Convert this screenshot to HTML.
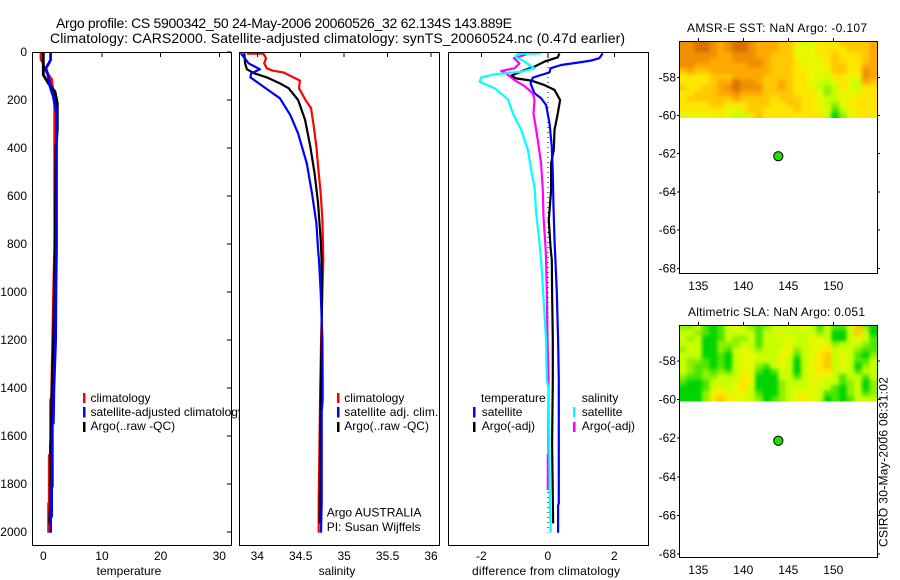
<!DOCTYPE html>
<html>
<head>
<meta charset="utf-8">
<title>Argo profile</title>
<style>
html,body{margin:0;padding:0;background:#fff;}
svg{display:block;font-family:"Liberation Sans",sans-serif;font-size:12px;fill:#000;}
</style>
</head>
<body>
<svg id="chart" xmlns="http://www.w3.org/2000/svg" width="900" height="580" viewBox="0 0 900 580">
<defs>
<clipPath id="legend-clip"><rect x="0" y="0" width="239" height="580"/></clipPath>
<clipPath id="sst-clip"><rect x="679" y="41" width="198" height="77"/></clipPath>
<clipPath id="sla-clip"><rect x="679" y="325" width="198" height="76.5"/></clipPath>
<filter id="smooth" x="-5%" y="-10%" width="110%" height="120%" color-interpolation-filters="sRGB">
<feGaussianBlur stdDeviation="1.8"/>
<feComponentTransfer><feFuncA type="linear" slope="2.4"/></feComponentTransfer>
</filter>
</defs>
<text x="56" y="28" font-size="14" textLength="456" lengthAdjust="spacing">Argo profile: CS 5900342_50 24-May-2006 20060526_32 62.134S 143.889E</text>
<text x="50" y="43" font-size="14" textLength="575" lengthAdjust="spacing">Climatology: CARS2000. Satellite-adjusted climatology: synTS_20060524.nc (0.47d earlier)</text>
<g id="panels"></g>
<g id="maps"></g>

<text x="129" y="575" text-anchor="middle">temperature</text>
<text x="337" y="575" text-anchor="middle">salinity</text>
<text x="546" y="575" text-anchor="middle" textLength="148" lengthAdjust="spacing">difference from climatology</text>

<g clip-path="url(#legend-clip)">
<rect x="83" y="393" width="2.5" height="10" fill="#f00"/>
<rect x="83" y="407" width="2.5" height="10.5" fill="#00f"/>
<rect x="83" y="422" width="2.5" height="10" fill="#000"/>
<text x="90.5" y="402">climatology</text>
<text x="90.5" y="416">satellite-adjusted climatology</text>
<text x="90.5" y="430">Argo(..raw -QC)</text>
</g>
<g>
<rect x="337" y="393" width="2.5" height="10" fill="#f00"/>
<rect x="337" y="407" width="2.5" height="10.5" fill="#00f"/>
<rect x="337" y="422" width="2.5" height="10" fill="#000"/>
<text x="344.3" y="402">climatology</text>
<text x="344.3" y="416" textLength="94" lengthAdjust="spacing">satellite adj. clim.</text>
<text x="344.3" y="430">Argo(..raw -QC)</text>
<text x="326.7" y="516.5">Argo AUSTRALIA</text>
<text x="326.7" y="531">PI: Susan Wijffels</text>
</g>
<g>
<text x="481" y="402">temperature</text>
<text x="581.7" y="402">salinity</text>
<rect x="473" y="407" width="2.5" height="10.5" fill="#00f"/>
<rect x="473" y="422" width="2.5" height="10" fill="#000"/>
<rect x="573" y="407" width="2.5" height="10.5" fill="#0ff"/>
<rect x="573" y="422" width="2.5" height="10" fill="#f0f"/>
<text x="481.7" y="416">satellite</text>
<text x="481.7" y="430">Argo(-adj)</text>
<text x="581.7" y="416">satellite</text>
<text x="581.7" y="430">Argo(-adj)</text>
</g>

<text x="687" y="32" textLength="180" lengthAdjust="spacing">AMSR-E SST: NaN Argo: -0.107</text>
<text x="688" y="316" textLength="177" lengthAdjust="spacing">Altimetric SLA: NaN Argo: 0.051</text>
<text transform="translate(887.5,547) rotate(-90)" textLength="170" lengthAdjust="spacing">CSIRO 30-May-2006 08:31:02</text>
</svg>

<script>
// ---- Axis tick labels ----
const depthTicks = [0, 200, 400, 600, 800, 1000, 1200, 1400, 1600, 1800, 2000];
const temperatureTicks = [0, 10, 20, 30];
const salinityTicks = [34, 34.5, 35, 35.5, 36];
const differenceTicks = [-2, 0, 2];
const longitudeTicks = [135, 140, 145, 150];
const latitudeTicks = [-58, -60, -62, -64, -66, -68];

// ---- Temperature panel ----
const tempClimDepth = [0, 32, 46, 60, 95, 115, 157, 185, 800, 1000, 1200, 1440, 1450, 1679, 1680, 1880, 1881, 2003];
const tempClimValue = [-0.4, -0.4, 0, 0, 0.85, 1.42, 1.6, 1.95, 1.95, 1.75, 1.6, 1.42, 1.25, 1.25, 1.02, 1.02, 0.91, 0.91];
const tempArgoDepth = [0, 95, 130, 165, 213, 324, 400, 800, 1000, 1200, 1400, 1600, 1640, 1870, 1964];
const tempArgoValue = [0, 0, 0.85, 2.0, 2.39, 2.39, 2.15, 2.05, 1.9, 1.75, 1.48, 1.36, 1.25, 1.25, 1.08];
const tempSatDepth = [0, 32, 46, 67, 101, 143, 185, 254, 800, 1000, 1200, 1400, 1547, 1548, 1811, 1812, 1936, 1937, 2003];
const tempSatValue = [1.25, 1.25, 0.97, 0.45, 0.85, 1.14, 1.7, 2.25, 2.25, 2.15, 2.1, 1.8, 1.7, 1.53, 1.53, 1.42, 1.42, 1.25, 1.25];

// ---- Salinity panel ----
const salClimDepth = [7, 7, 26, 47, 68, 78, 85, 99, 119, 151, 197, 235, 311, 394, 478, 589, 700, 867, 1000, 1200, 1367, 1680, 1880, 2003];
const salClimValue = [33.88, 34.07, 34.10, 34.08, 34.11, 34.18, 34.30, 34.38, 34.49, 34.48, 34.55, 34.62, 34.65, 34.68, 34.70, 34.73, 34.75, 34.76, 34.75, 34.735, 34.726, 34.714, 34.707, 34.707];
const salSatDepth = [5, 47, 72, 89, 106, 144, 193, 263, 339, 464, 589, 714, 825, 867, 1000, 1200, 1367, 1450, 1500, 1880, 2003];
const salSatValue = [33.81, 33.90, 34.03, 33.93, 33.92, 34.07, 34.26, 34.38, 34.47, 34.57, 34.63, 34.68, 34.70, 34.71, 34.73, 34.75, 34.752, 34.752, 34.741, 34.741, 34.733];
const salArgoDepth = [5, 47, 72, 89, 106, 131, 151, 200, 283, 394, 506, 631, 783, 867, 1000, 1200, 1400, 1600, 1880, 1964];
const salArgoValue = [33.85, 33.86, 33.88, 33.97, 34.11, 34.26, 34.36, 34.47, 34.55, 34.61, 34.66, 34.70, 34.73, 34.74, 34.745, 34.74, 34.73, 34.726, 34.72, 34.718];

// ---- Difference panel ----
const diffTempArgoDepth = [6, 22, 40, 61, 78, 99, 110, 119, 138, 158, 200, 256, 325, 408, 464, 575, 700, 811, 867, 1000, 1200, 1367, 1630, 1850, 1964];
const diffTempArgoValue = [0.35, 0.30, -0.10, -0.40, -0.75, -1.10, -0.95, -0.50, -0.10, 0.20, 0.37, 0.30, 0.20, 0.18, 0.10, 0.10, 0.03, 0.08, 0.12, 0.13, 0.15, 0.15, 0.13, 0.15, 0.16];
const diffTempSatDepth = [6, 26, 36, 44, 54, 68, 85, 96, 107, 131, 172, 193, 221, 297, 394, 506, 645, 783, 867, 1000, 1200, 1367, 1880, 1890, 2003];
const diffTempSatValue = [1.65, 1.55, 1.30, 0.90, 0.40, 0.08, 0.05, -0.20, -0.45, -0.52, -0.40, -0.20, -0.05, 0.05, 0.12, 0.15, 0.17, 0.20, 0.23, 0.27, 0.31, 0.33, 0.33, 0.31, 0.31];
const diffSalArgoDepth = [10, 26, 47, 68, 79, 89, 117, 142, 172, 200, 256, 367, 464, 575, 686, 811, 867, 1000, 1200, 1367, 1679, 1680, 1825];
const diffSalArgoValue = [-0.65, -1.02, -0.85, -1.0, -1.40, -1.25, -1.0, -0.70, -0.45, -0.40, -0.43, -0.30, -0.20, -0.15, -0.13, -0.07, -0.05, -0.03, -0.01, 0.02, 0.02, 0, 0];
const diffSalSatDepth = [6, 8, 19, 36, 68, 82, 93, 106, 124, 151, 197, 256, 325, 408, 506, 561, 672, 770, 867, 1000, 1200, 1367, 1400, 1550, 1880, 2003];
const diffSalSatValue = [-0.2, -0.9, -0.98, -0.75, -0.40, -0.80, -1.60, -2.0, -2.05, -1.60, -1.20, -1.05, -0.80, -0.60, -0.48, -0.40, -0.35, -0.27, -0.20, -0.14, -0.05, -0.03, 0.02, 0.04, 0.06, 0.09];
const zeroLineDepth = [0, 2003];
const zeroLineValue = [0, 0];

// ---- Float position ----
const floatLongitude = 143.889;
const floatLatitude = -62.134;

// ---- Map cells, level 0 (green) to 9 (dark orange) ----
const sstCells = [
[8,8,9,9,8,7,8,9,9,8,7,7,7,6,6,5,3,4,5,5,5,6,6,6,6,7],
[8,8,9,9,8,7,8,9,9,8,7,7,7,6,6,4,4,4,5,5,5,5,6,6,6,7],
[8,8,8,8,8,7,7,8,8,8,7,7,6,6,6,4,4,4,5,5,6,5,5,5,6,7],
[8,8,8,8,7,7,7,8,8,8,8,7,6,6,6,5,4,4,4,5,6,5,5,5,6,7],
[8,8,7,7,7,7,7,7,7,8,8,7,6,6,6,5,4,4,4,5,6,6,5,5,7,7],
[6,7,6,6,7,7,7,7,7,7,7,7,6,6,6,5,5,4,4,4,6,6,5,5,8,7],
[5,5,5,5,6,6,6,7,7,7,7,6,6,6,6,5,5,4,4,3,5,5,4,4,8,7],
[5,5,5,5,6,7,7,9,8,8,7,6,6,7,6,5,5,4,3,3,4,5,4,3,7,6],
[6,5,5,6,6,7,8,9,8,8,8,6,6,7,6,5,5,4,3,2,3,5,4,3,5,5],
[5,5,6,6,6,7,7,8,7,7,7,6,6,6,6,5,5,5,4,2,3,4,4,4,5,5],
[5,6,6,6,6,6,6,7,6,6,6,6,5,6,6,6,5,5,4,3,3,4,4,5,5,5],
[5,5,5,5,6,6,5,5,5,6,6,6,5,5,6,6,5,5,4,3,2,4,5,5,5,5],
[5,5,5,5,5,5,4,4,5,6,6,5,5,5,5,6,5,5,4,4,1,3,4,5,5,5],
[4,4,4,4,4,5,4,3,3,5,6,5,5,5,5,5,5,5,5,3,0,2,4,5,5,5]
];
const slaCells = [
[2,2,3,1,0,1,3,4,3,2,1,2,3,3,3,3,4,3,1,3,1,1,3,6,2,0],
[3,3,2,1,0,1,3,3,3,3,1,3,3,4,3,3,3,3,2,3,0,0,3,6,3,0],
[3,2,3,0,0,1,3,2,2,3,1,3,3,3,4,3,3,4,4,3,0,0,3,4,3,1],
[3,3,3,0,0,2,2,2,3,3,1,3,3,3,4,3,3,4,4,4,2,3,3,3,2,1],
[2,3,3,0,0,2,1,3,4,3,2,3,3,4,4,2,3,4,4,5,3,3,3,2,1,1],
[3,3,3,0,0,1,0,3,4,4,3,3,3,4,4,1,3,4,5,6,3,4,3,1,0,2],
[3,2,2,1,0,1,0,3,4,4,3,3,3,4,3,0,3,4,5,6,3,4,3,1,1,3],
[3,2,1,1,0,1,0,3,4,4,2,1,3,4,3,0,3,4,5,6,3,4,3,0,2,3],
[3,2,1,2,1,2,1,3,4,4,1,0,1,3,3,0,3,4,5,5,3,3,3,1,3,3],
[2,1,1,2,2,3,3,3,5,4,0,0,0,3,3,1,3,4,4,4,3,1,3,3,1,3],
[1,0,0,1,3,3,3,4,5,4,0,0,0,2,3,3,3,4,4,3,3,1,2,3,0,2],
[0,0,0,1,3,4,3,4,5,3,0,0,0,2,3,3,3,4,3,3,1,0,2,3,0,2],
[0,0,0,2,4,5,4,4,4,3,1,0,0,2,3,4,4,4,3,1,1,0,2,3,1,2],
[0,0,0,2,5,6,5,4,4,3,2,0,1,2,3,4,5,4,3,0,1,0,1,3,3,3]
];

const NS = 'http://www.w3.org/2000/svg';
const panelsGroup = document.getElementById('panels');
const mapsGroup = document.getElementById('maps');

function mk(parent, tag, attrs, text) {
  const node = document.createElementNS(NS, tag);
  for (const k in attrs) node.setAttribute(k, attrs[k]);
  if (text !== undefined) node.textContent = text;
  parent.appendChild(node);
  return node;
}

function linear(d0, d1, r0, r1) {
  return v => r0 + (v - d0) * (r1 - r0) / (d1 - d0);
}

const depthY = linear(0, 2000, 52, 532);

const cellColors = ['#00d400', '#4ce600', '#90f000', '#c8ff00', '#e8f800', '#ffe600', '#ffc800', '#ffa800', '#f09000', '#d87000'];

function drawProfilePanel(cfg) {
  const g = mk(panelsGroup, 'g', {});
  
  
  const x = linear(cfg.d0, cfg.d1, cfg.r0, cfg.r1);

  cfg.series.forEach(s => {
    const pts = s.depth.map((d, i) => x(s.value[i]).toFixed(1) + ',' + depthY(d).toFixed(1)).join(' ');
    const line = mk(g, 'polyline', {
      points: pts, fill: 'none', stroke: s.color, 'stroke-width': s.width || 2.2,
      'stroke-linejoin': 'round', 'stroke-dasharray': s.dash || 'none',
      'shape-rendering': s.dash ? 'crispEdges' : 'auto'
    });
    
    
  });

  const frame = mk(g, 'rect', {
    x: cfg.left + 0.5, y: 52.5, width: cfg.right - cfg.left, height: 493,
    fill: 'none', stroke: '#000', 'stroke-width': 1.2, 'shape-rendering': 'crispEdges'
  });
  
  

  cfg.ticks.forEach(t => {
    const px = x(t);
    const tick = mk(g, 'line', {
      x1: px, x2: px, y1: 52, y2: 57, stroke: '#000', 'stroke-width': 1, 'shape-rendering': 'crispEdges'
    });
    
    
    const label = mk(g, 'text', { x: px, y: 560, 'text-anchor': 'middle' }, String(t));
    
    
  });

  if (cfg.depthAxis) {
    depthTicks.forEach(d => {
      const py = depthY(d);
      const tick = mk(g, 'line', {
        x1: cfg.right - 4, x2: cfg.right, y1: py, y2: py, stroke: '#000', 'stroke-width': 1, 'shape-rendering': 'crispEdges'
      });
      
      
      const label = mk(g, 'text', { x: 27, y: py + 4, 'text-anchor': 'end' }, String(d));
      
      
    });
  }
}

drawProfilePanel({
  name: 'temperature', left: 32, right: 231, d0: 0, d1: 30, r0: 43.3, r1: 219.3,
  ticks: temperatureTicks, depthAxis: true,
  series: [
    { name: 'climatology', color: '#f00', depth: tempClimDepth, value: tempClimValue, width: 2.8 },
    { name: 'argo', color: '#000', depth: tempArgoDepth, value: tempArgoValue, width: 2.8 },
    { name: 'satellite', color: '#00f', depth: tempSatDepth, value: tempSatValue, width: 2.8 }
  ]
});
drawProfilePanel({
  name: 'salinity', left: 239, right: 439, d0: 34, d1: 36, r0: 257.3, r1: 431,
  ticks: salinityTicks, depthAxis: false,
  series: [
    { name: 'climatology', color: '#f00', depth: salClimDepth, value: salClimValue },
    { name: 'argo', color: '#000', depth: salArgoDepth, value: salArgoValue },
    { name: 'satellite', color: '#00f', depth: salSatDepth, value: salSatValue }
  ]
});
drawProfilePanel({
  name: 'difference', left: 448, right: 648, d0: -2, d1: 2, r0: 481.3, r1: 614.3,
  ticks: differenceTicks, depthAxis: false,
  series: [
    { name: 'zero', color: '#000', depth: zeroLineDepth, value: zeroLineValue, width: 1, dash: '1 4' },
    { name: 'temperature-argo', color: '#000', depth: diffTempArgoDepth, value: diffTempArgoValue },
    { name: 'temperature-satellite', color: '#00f', depth: diffTempSatDepth, value: diffTempSatValue },
    { name: 'salinity-argo', color: '#f0f', depth: diffSalArgoDepth, value: diffSalArgoValue },
    { name: 'salinity-satellite', color: '#0ff', depth: diffSalSatDepth, value: diffSalSatValue }
  ]
});

function drawMap(cfg) {
  const left = 679, right = 877;
  const g = mk(mapsGroup, 'g', {});
  
  
  const lonX = linear(135, 150, 698.3, 833.3);
  const latY = linear(-58, -68, cfg.y58, cfg.y68);

  const clipGroup = mk(g, 'g', { 'clip-path': 'url(#' + cfg.name + '-clip)' });
  
  
  const heat = mk(clipGroup, 'g', { filter: 'url(#smooth)' });
  
  

  const nRows = cfg.cells.length;
  const nCols = cfg.cells[0].length;
  const cw = (right - left) / nCols;
  const ch = (cfg.imageBottom - cfg.top) / nRows;
  cfg.cells.forEach((row, r) => {
    row.forEach((v, c) => {
      const cell = mk(heat, 'rect', {
        x: (left + c * cw).toFixed(2), y: (cfg.top + r * ch).toFixed(2),
        width: (cw + 0.4).toFixed(2), height: (ch + 0.4).toFixed(2),
        fill: cellColors[v]
      });
      
      
    });
  });

  const frame = mk(g, 'rect', {
    x: left + 0.5, y: cfg.top + 0.5, width: right - left, height: cfg.bottom - cfg.top,
    fill: 'none', stroke: '#000', 'stroke-width': 1.2, 'shape-rendering': 'crispEdges'
  });
  
  

  longitudeTicks.forEach(t => {
    const px = lonX(t);
    const tick = mk(g, 'line', {
      x1: px, x2: px, y1: cfg.top - 3, y2: cfg.top, stroke: '#000', 'stroke-width': 1, 'shape-rendering': 'crispEdges'
    });
    
    
    const label = mk(g, 'text', { x: px, y: cfg.bottom + 17, 'text-anchor': 'middle' }, String(t));
    
    
  });

  latitudeTicks.forEach(t => {
    const py = latY(t);
    const tickR = mk(g, 'line', {
      x1: right, x2: right + 3, y1: py, y2: py, stroke: '#000', 'stroke-width': 1, 'shape-rendering': 'crispEdges'
    });
    
    
    const tickL = mk(g, 'line', {
      x1: left - 2, x2: left, y1: py, y2: py, stroke: '#000', 'stroke-width': 1, 'shape-rendering': 'crispEdges'
    });
    
    
    const label = mk(g, 'text', { x: 676, y: py + 4, 'text-anchor': 'end' }, String(t));
    
    
  });

  const marker = mk(g, 'circle', {
    cx: lonX(floatLongitude), cy: latY(floatLatitude), r: 4.6,
    fill: '#20e000', stroke: '#000', 'stroke-width': 1
  });
  
  
}

drawMap({ name: 'sst', cells: sstCells, top: 41, bottom: 273, imageBottom: 118, y58: 77.3, y68: 268.3 });
drawMap({ name: 'sla', cells: slaCells, top: 325, bottom: 557, imageBottom: 401.5, y58: 361, y68: 554 });
</script>
</body>
</html>
